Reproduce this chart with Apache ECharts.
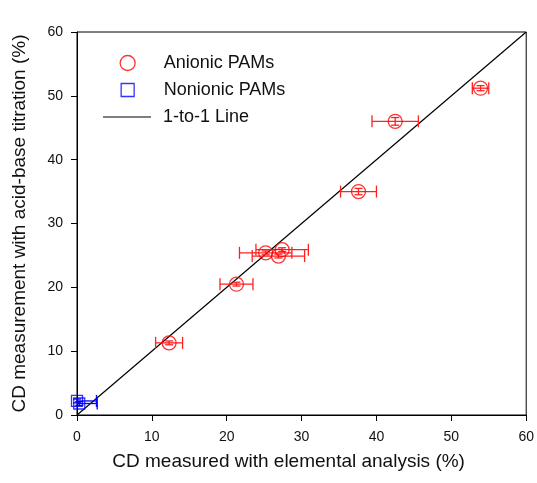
<!DOCTYPE html>
<html>
<head>
<meta charset="utf-8">
<script src="https://cdn.jsdelivr.net/npm/echarts@6/dist/echarts.min.js"></script>
<style>
  html, body { margin: 0; padding: 0; background: #fff; }
  #chart { width: 537px; height: 483px; }
</style>
</head>
<body>
<div id="chart"></div>
<script>
// anionic PAMs: x (elemental), y (titration), x error, y error
const anionicX = [53.9, 42.5, 37.6, 25.2, 26.9, 27.4, 21.3, 12.3]
const anionicY = [51.2, 46.0, 35.0, 25.4, 24.9, 25.9, 20.5, 11.3]
const anionicXErr = [1.1, 3.1, 2.4, 3.5, 3.5, 3.5, 2.2, 1.8]
const anionicYErr = [0.4, 0.6, 0.5, 0.3, 0.3, 0.3, 0.3, 0.3]

// nonionic PAMs
const nonionicX = [0.0, 0.3]
const nonionicY = [2.2, 1.8]
const nonionicXErr = [2.6, 2.4]
const nonionicYErr = [0.3, 0.3]

// 1-to-1 line
const lineX = [0, 60]
const lineY = [0, 60]

const ticks = [0, 10, 20, 30, 40, 50, 60]

const zip = (...arrs) => arrs[0].map((_, i) => arrs.map(a => a[i]))

const chart = echarts.init(document.getElementById('chart'))

// 误差线 (clipped at x = 0)
function errorBar(color) {
  return function (params, api) {
    const x = api.value(0)
    const y = api.value(1)
    const ex = api.value(2)
    const ey = api.value(3)
    const lo = Math.max(x - ex, 0)
    const l = api.coord([lo, y])
    const r = api.coord([x + ex, y])
    const b = api.coord([x, y - ey])
    const t = api.coord([x, y + ey])
    const cap = 6
    const style = { stroke: color, lineWidth: 1.3 }
    const seg = (x1, y1, x2, y2) => ({ type: 'line', shape: { x1, y1, x2, y2 }, style })
    const children = [
      seg(l[0], l[1], r[0], r[1]),
      seg(r[0], r[1] - cap, r[0], r[1] + cap),
      seg(b[0], b[1], t[0], t[1]),
      seg(b[0] - 4, b[1], b[0] + 4, b[1]),
      seg(t[0] - 4, t[1], t[0] + 4, t[1])
    ]
    if (lo > 0) children.push(seg(l[0], l[1] - cap, l[0], l[1] + cap))
    return { type: 'group', children }
  }
}

const font = 'Liberation Sans, Arial, sans-serif'
const legendText = pad => ({ fontSize: 18, color: '#111', fontFamily: font, padding: [0, 0, 0, pad] })

chart.setOption({
  animation: false,
  textStyle: { fontFamily: font },
  grid: {
    left: 77, right: 10, top: 32, bottom: 68,
    show: true, borderColor: '#000', borderWidth: 1
  },
  legend: [
    {
      left: 119.5, top: 54, padding: 0,
      itemWidth: 15, itemHeight: 15,
      textStyle: legendText(23.5),
      data: [{ name: 'Anionic PAMs', icon: 'circle', itemStyle: { color: 'transparent', borderColor: '#ff0000', borderWidth: 1.3 } }]
    },
    {
      left: 120.5, top: 81, padding: 0,
      itemWidth: 13, itemHeight: 13,
      textStyle: legendText(24.5),
      data: [{ name: 'Nonionic PAMs', icon: 'rect', itemStyle: { color: 'transparent', borderColor: '#0000ff', borderWidth: 1.3 } }]
    },
    {
      left: 103, top: 108, padding: 0,
      itemWidth: 48, itemHeight: 1.2,
      textStyle: legendText(7),
      data: [{ name: '1-to-1 Line', icon: 'rect', itemStyle: { color: '#000', borderWidth: 0 } }]
    }
  ],
  xAxis: {
    type: 'value',
    min: 0, max: 60, interval: 10,
    name: 'CD measured with elemental analysis (%)',
    nameLocation: 'middle',
    nameGap: 37,
    nameTextStyle: { fontSize: 19, color: '#111', padding: [0, 26, 0, 0] },
    axisLine: { show: true, lineStyle: { color: '#000' } },
    axisTick: { show: true, length: 6, lineStyle: { color: '#000' } },
    axisLabel: { fontSize: 14, color: '#111', margin: 15, formatter: v => ticks.includes(v) ? String(v) : '' },
    splitLine: { show: false }
  },
  yAxis: {
    type: 'value',
    min: 0, max: 60, interval: 10,
    name: 'CD measurement with acid-base titration (%)',
    nameLocation: 'middle',
    nameGap: 48,
    nameTextStyle: { fontSize: 19, color: '#111' },
    axisLine: { show: true, lineStyle: { color: '#000' } },
    axisTick: { show: true, length: 6, lineStyle: { color: '#000' } },
    axisLabel: { fontSize: 14, color: '#111', margin: 14, formatter: v => ticks.includes(v) ? String(v) : '' },
    splitLine: { show: false }
  },
  series: [
    {
      name: '1-to-1 Line',
      type: 'line',
      data: zip(lineX, lineY),
      symbol: 'none',
      lineStyle: { color: '#000', width: 1.2 },
      z: 1
    },
    {
      type: 'custom',
      renderItem: errorBar('#ff2020'),
      data: zip(anionicX, anionicY, anionicXErr, anionicYErr),
      z: 2,
      silent: true
    },
    {
      type: 'custom',
      renderItem: errorBar('#0000ff'),
      data: zip(nonionicX, nonionicY, nonionicXErr, nonionicYErr),
      z: 2,
      silent: true
    },
    {
      name: 'Anionic PAMs',
      type: 'scatter',
      data: zip(anionicX, anionicY),
      symbol: 'circle',
      symbolSize: 14,
      itemStyle: { color: 'transparent', borderColor: '#ff0000', borderWidth: 1.3 },
      z: 3
    },
    {
      name: 'Nonionic PAMs',
      type: 'scatter',
      data: zip(nonionicX, nonionicY),
      symbol: 'rect',
      symbolSize: 11,
      itemStyle: { color: 'transparent', borderColor: '#0000ff', borderWidth: 1.3 },
      z: 3
    }
  ]
})
</script>
</body>
</html>
